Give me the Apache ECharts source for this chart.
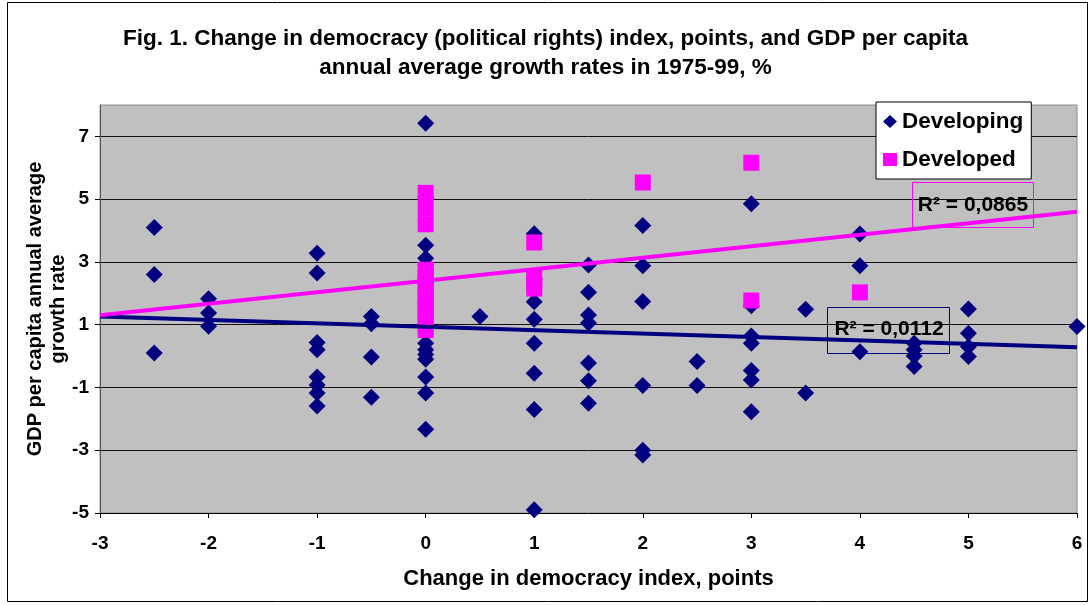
<!DOCTYPE html>
<html>
<head>
<meta charset="utf-8">
<title>Fig. 1</title>
<script src="https://cdn.jsdelivr.net/npm/echarts@6/dist/echarts.min.js"></script>
<style>
  html, body { margin: 0; padding: 0; background: #fff; }
  #chart { width: 1091px; height: 605px; }
</style>
</head>
<body>
<div id="chart"></div>
<script>
// Change in democracy index (x) vs GDP per capita growth (y)
var FONT = '"Liberation Sans", Arial, sans-serif';

// developing countries
var devingX = [-2.5, -2.5, -2.5,
  -2, -2, -2,
  -1, -1, -1, -1, -1, -1, -1, -1,
  -0.5, -0.5, -0.5, -0.5,
  0, 0, 0, 0, 0, 0, 0, 0, 0, 0, 0, 0, 0, 0, 0,
  0.5,
  1, 1, 1, 1, 1, 1, 1, 1,
  1.5, 1.5, 1.5, 1.5, 1.5, 1.5, 1.5,
  2, 2, 2, 2, 2, 2,
  2.5, 2.5,
  3, 3, 3, 3, 3, 3, 3,
  3.5, 3.5,
  4, 4, 4,
  4.5, 4.5, 4.5, 4.5,
  5, 5, 5, 5,
  6];
var devingY = [4.1, 2.6, 0.1,
  1.83, 1.37, 0.95,
  3.28, 2.65, 0.43, 0.2, -0.67, -0.92, -1.18, -1.59,
  1.26, 1.03, -0.03, -1.31,
  7.42, 5.07, 3.53, 3.12, 2.9, 2.33, 1.69, 1.47, 0.41, 0.2, 0.05, -0.1, -0.67, -1.18, -2.33,
  1.26,
  3.9, 2.45, 1.73, 1.17, 0.41, -0.55, -1.7, -4.9,
  2.9, 2.03, 1.31, 1.05, -0.22, -0.79, -1.5,
  4.16, 2.88, 1.74, -0.94, -3.0, -3.15,
  -0.17, -0.94,
  4.85, 1.6, 0.64, 0.41, -0.46, -0.76, -1.77,
  1.49, -1.18,
  3.89, 2.88, 0.14,
  0.41, 0.2, 0.0, -0.33,
  1.5, 0.73, 0.3, -0.01,
  0.94];

// developed countries
var devedX = [0, 0, 0, 0, 0, 0, 0, 0, 0, 0, 0, 0, 0, 0,
  1, 1, 1, 1,
  2,
  3, 3,
  4];
var devedY = [5.2, 4.7, 4.2, 2.75, 2.55, 2.35, 2.15, 1.95, 1.75, 1.55, 1.35, 1.15, 0.95, 0.83,
  3.62, 2.5, 2.3, 2.15,
  5.53,
  6.16, 1.77,
  2.03];

// linear trend lines, end points
var trendDevingX = [-3, 6];
var trendDevingY = [1.26, 0.28];
var trendDevedX = [-3, 6];
var trendDevedY = [1.3, 4.6];

var xTicks = [-3, -2, -1, 0, 1, 2, 3, 4, 5, 6];
var yTicks = [-5, -3, -1, 1, 3, 5, 7];

function pairs(xs, ys) {
  var out = [];
  for (var i = 0; i < xs.length; i++) out.push([xs[i], ys[i]]);
  return out;
}

var chart = echarts.init(document.getElementById('chart'));

var option = {
  backgroundColor: '#fff',
  animation: false,
  title: {
    text: 'Fig. 1. Change in democracy (political rights) index, points, and GDP per capita\nannual average growth rates in 1975-99, %',
    left: 'center',
    top: 19,
    textStyle: { fontFamily: FONT, fontWeight: 'bold', fontSize: 22.5, lineHeight: 29, color: '#000' }
  },
  legend: {
    orient: 'vertical',
    left: 876,
    top: 102,
    width: 140,
    padding: [8, 8, 8, 7],
    itemGap: 15,
    itemWidth: 14,
    itemHeight: 13,
    backgroundColor: '#fff',
    borderColor: '#000',
    borderWidth: 1,
    borderRadius: 0,
    textStyle: { fontFamily: FONT, fontWeight: 'bold', fontSize: 22.5, lineHeight: 22, color: '#000' },
    data: [
      { name: 'Developing', icon: 'diamond' },
      { name: 'Developed', icon: 'rect' }
    ]
  },
  grid: {
    left: 100,
    right: 14,
    top: 105,
    bottom: 92,
    show: true,
    backgroundColor: '#C0C0C0',
    borderColor: '#8c8c8c',
    borderWidth: 1
  },
  xAxis: {
    type: 'value',
    min: xTicks[0],
    max: xTicks[xTicks.length - 1],
    interval: 1,
    name: 'Change in democracy index, points',
    nameLocation: 'middle',
    nameGap: 55,
    nameTextStyle: { fontFamily: FONT, fontWeight: 'bold', fontSize: 22, color: '#000' },
    axisLine: { show: true, onZero: false, lineStyle: { color: '#000', width: 1 } },
    axisTick: { show: true, inside: false, length: 5, lineStyle: { color: '#000' } },
    axisLabel: { fontFamily: FONT, fontWeight: 'bold', fontSize: 19, color: '#000', margin: 21 },
    splitLine: { show: false }
  },
  yAxis: {
    type: 'value',
    min: yTicks[0],
    max: 8,
    interval: 2,
    name: 'GDP per capita annual average\ngrowth rate',
    nameLocation: 'middle',
    nameGap: 30,
    nameMoveOverlap: false,
    nameTextStyle: { fontFamily: FONT, fontWeight: 'bold', fontSize: 20, lineHeight: 23, color: '#000' },
    axisLine: { show: true, onZero: false, lineStyle: { color: '#555', width: 1 } },
    axisTick: { show: true, inside: false, length: 5, lineStyle: { color: '#000' } },
    axisLabel: { fontFamily: FONT, fontWeight: 'bold', fontSize: 19, color: '#000', margin: 11, showMaxLabel: false },
    splitLine: { show: true, showMinLine: false, showMaxLine: false, lineStyle: { color: '#111', width: 1 } }
  },
  series: [
    {
      name: 'Developing',
      type: 'scatter',
      symbol: 'diamond',
      symbolSize: 17,
      itemStyle: { color: '#000080', opacity: 1 },
      data: pairs(devingX, devingY),
      z: 2
    },
    {
      name: 'Developed',
      type: 'scatter',
      symbol: 'rect',
      symbolSize: 16,
      itemStyle: { color: '#FF00FF', opacity: 1 },
      data: pairs(devedX, devedY),
      z: 3
    },
    {
      name: 'trend developing',
      type: 'line',
      symbol: 'none',
      lineStyle: { color: '#000080', width: 4 },
      data: pairs(trendDevingX, trendDevingY),
      z: 4
    },
    {
      name: 'trend developed',
      type: 'line',
      symbol: 'none',
      lineStyle: { color: '#FF00FF', width: 4 },
      data: pairs(trendDevedX, trendDevedY),
      z: 4
    }
  ],
  graphic: [
    // outer frame
    { type: 'rect', shape: { x: 7.5, y: 2.5, width: 1080, height: 599 }, style: { fill: null, stroke: '#000', lineWidth: 1 }, z: 100 },
    // R² labels
    { type: 'rect', shape: { x: 912.5, y: 182.5, width: 121, height: 45 }, style: { fill: null, stroke: '#FF00FF', lineWidth: 1 }, z: 100 },
    { type: 'text', x: 973, y: 205, style: { text: 'R² = 0,0865', fontFamily: FONT, fontWeight: 'bold', fontSize: 21, fill: '#000', align: 'center', verticalAlign: 'middle' }, z: 101 },
    { type: 'rect', shape: { x: 827.5, y: 307.5, width: 122, height: 46 }, style: { fill: null, stroke: '#000080', lineWidth: 1 }, z: 100 },
    { type: 'text', x: 889, y: 329, style: { text: 'R² = 0,0112', fontFamily: FONT, fontWeight: 'bold', fontSize: 21, fill: '#000', align: 'center', verticalAlign: 'middle' }, z: 101 }
  ]
};

chart.setOption(option);
</script>
</body>
</html>
